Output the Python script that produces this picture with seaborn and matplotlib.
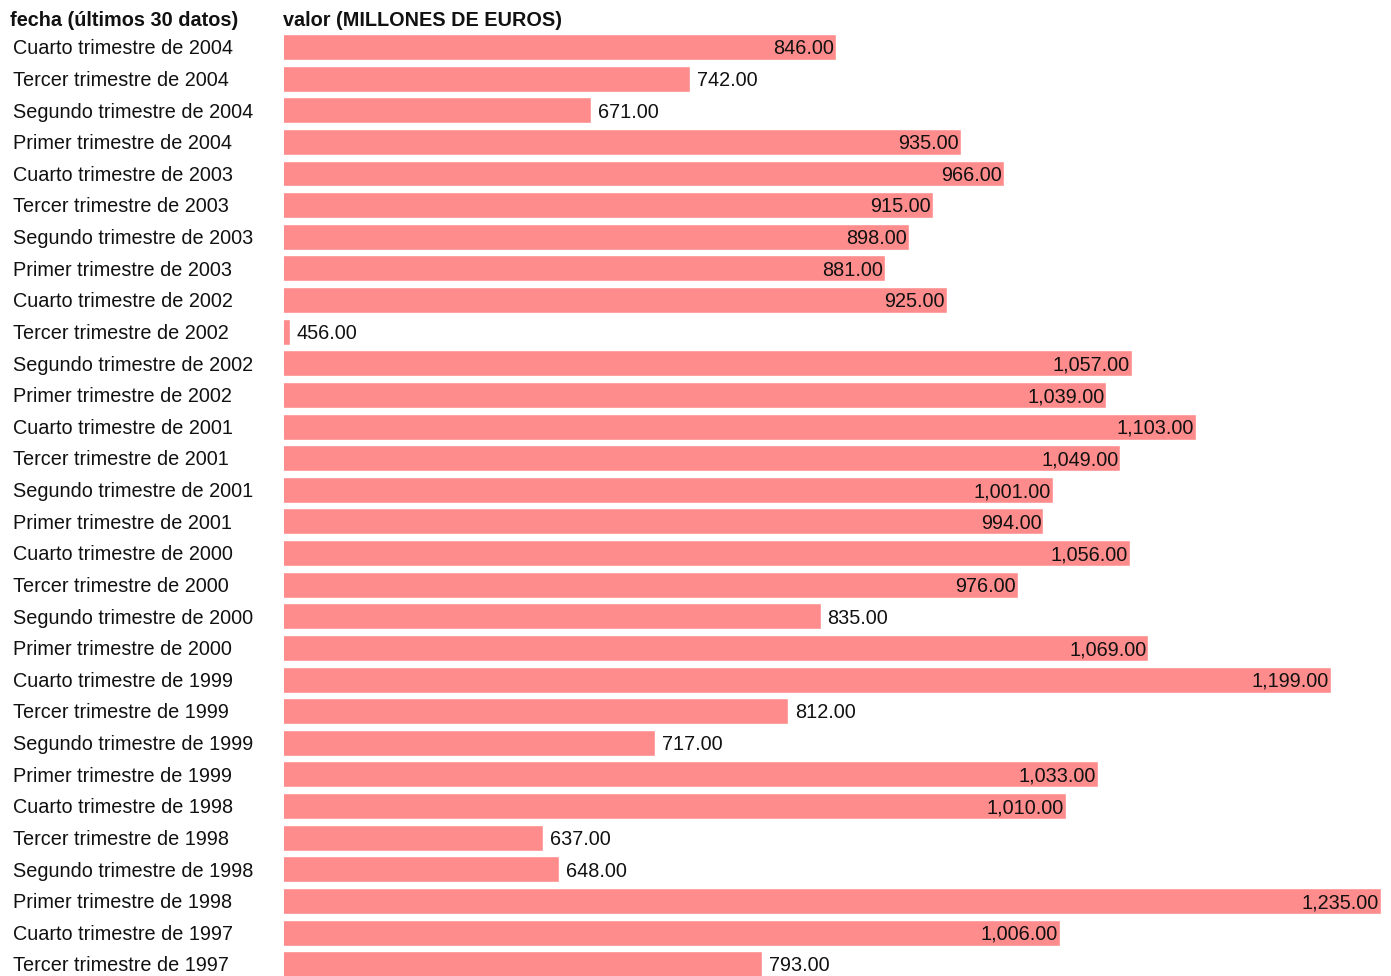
import matplotlib
matplotlib.use("Agg")
import matplotlib.pyplot as plt
import matplotlib.transforms as mtransforms
import pandas as pd
import seaborn as sns

# datos (de arriba a abajo)
fechas = [
    "Cuarto trimestre de 2004", "Tercer trimestre de 2004", "Segundo trimestre de 2004",
    "Primer trimestre de 2004", "Cuarto trimestre de 2003", "Tercer trimestre de 2003",
    "Segundo trimestre de 2003", "Primer trimestre de 2003", "Cuarto trimestre de 2002",
    "Tercer trimestre de 2002", "Segundo trimestre de 2002", "Primer trimestre de 2002",
    "Cuarto trimestre de 2001", "Tercer trimestre de 2001", "Segundo trimestre de 2001",
    "Primer trimestre de 2001", "Cuarto trimestre de 2000", "Tercer trimestre de 2000",
    "Segundo trimestre de 2000", "Primer trimestre de 2000", "Cuarto trimestre de 1999",
    "Tercer trimestre de 1999", "Segundo trimestre de 1999", "Primer trimestre de 1999",
    "Cuarto trimestre de 1998", "Tercer trimestre de 1998", "Segundo trimestre de 1998",
    "Primer trimestre de 1998", "Cuarto trimestre de 1997", "Tercer trimestre de 1997",
]
valores = [
    846, 742, 671, 935, 966, 915, 898, 881, 925, 456,
    1057, 1039, 1103, 1049, 1001, 994, 1056, 976, 835, 1069,
    1199, 812, 717, 1033, 1010, 637, 648, 1235, 1006, 793,
]

df = pd.DataFrame({"fecha": fechas, "valor": valores})

sns.set_theme(style="white")
plt.rcParams["font.family"] = ["Liberation Sans", "DejaVu Sans"]

W, H = 1391, 976
fig = plt.figure(figsize=(W / 100, H / 100), dpi=100)
ax = fig.add_axes([284 / W, -4 / H, (1381 - 284) / W, (976 - 31.2 + 4) / H])

sns.barplot(data=df, x="valor", y="fecha", orient="h", color="#FF8C8C",
            saturation=1, width=0.82, ax=ax)

ax.set_xlim(452, max(valores))
ax.set_ylim(len(valores) - 0.5, -0.5)
ax.set_axis_off()

fs = 14.3
dy = -1.3  # ajuste vertical del texto (puntos)

# etiquetas de valor
for i, v in enumerate(valores):
    txt = f"{v:,.2f}"
    if v > 840:
        ax.annotate(txt, (v, i), xytext=(-1.5, dy), textcoords="offset points",
                    ha="right", va="center", fontsize=fs, color="#111111")
    else:
        ax.annotate(txt, (v, i), xytext=(5, dy), textcoords="offset points",
                    ha="left", va="center", fontsize=fs, color="#111111")

# etiquetas de fecha
trans = mtransforms.blended_transform_factory(fig.transFigure, ax.transData)
for i, f in enumerate(fechas):
    ax.annotate(f, (13 / W, i), xycoords=trans, xytext=(0, dy),
                textcoords="offset points", ha="left", va="center",
                fontsize=fs, color="#111111", annotation_clip=False)

# cabeceras
fig.text(10 / W, 1 - 21 / H, "fecha (últimos 30 datos)", ha="left", va="center",
         fontsize=fs, fontweight="bold", color="#111111")
fig.text(283 / W, 1 - 21 / H, "valor (MILLONES DE EUROS)", ha="left", va="center",
         fontsize=fs, fontweight="bold", color="#111111")

fig.savefig("out.png", dpi=100)
plt.close(fig)
